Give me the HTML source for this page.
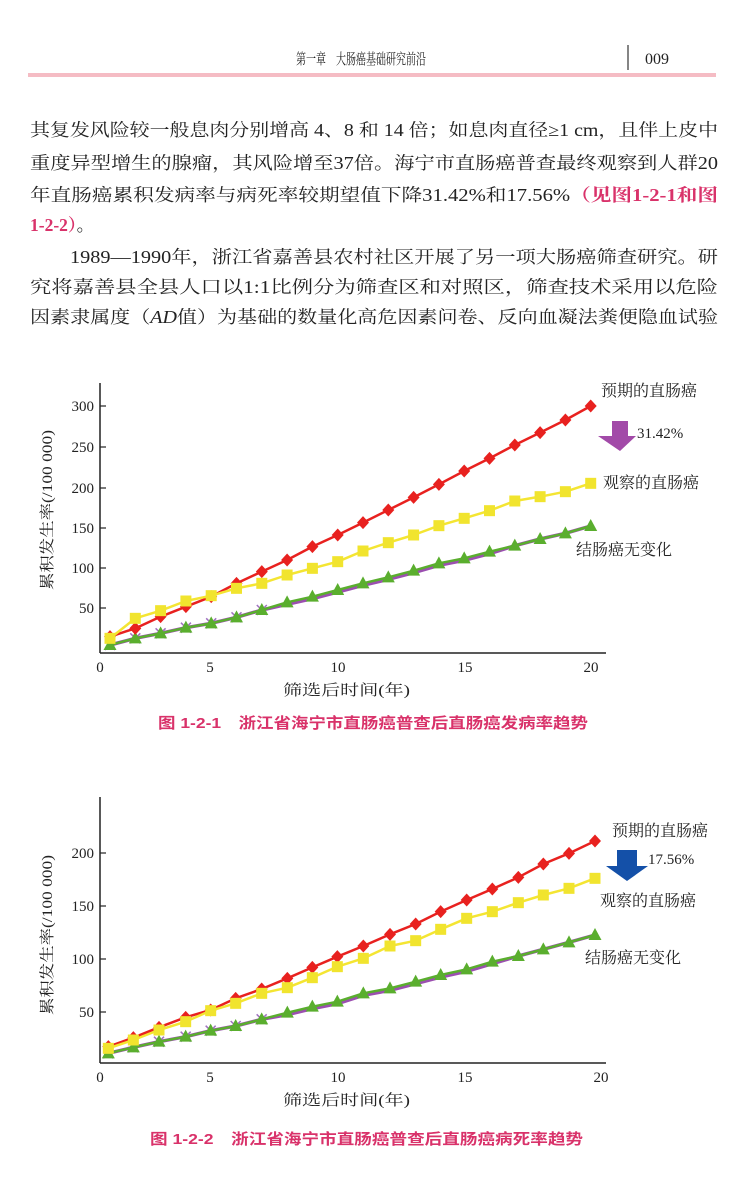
<!DOCTYPE html>
<html><head><meta charset="utf-8"><style>
html,body{margin:0;padding:0;background:#fff}
svg{display:block}
text{font-family:"Liberation Serif","Noto Serif CJK SC",serif;fill:#222}
.cap{font-family:"Liberation Sans","Noto Sans CJK SC",sans-serif;fill:#d9326a;font-weight:bold;font-size:15px}
</style></head><body>
<svg id="s" width="750" height="1194" viewBox="0 0 750 1194" xmlns="http://www.w3.org/2000/svg">
<text x="296" y="64" font-size="15" textLength="130" lengthAdjust="spacingAndGlyphs">第一章　大肠癌基础研究前沿</text>
<line x1="628" y1="45" x2="628" y2="70" stroke="#333" stroke-width="1.2"/>
<text x="645" y="64" font-size="16">009</text>
<rect x="28" y="73" width="688" height="4" fill="#f5bcc4"/>
<g font-size="17.5">
<text x="30" y="136" textLength="688" lengthAdjust="spacingAndGlyphs">其复发风险较一般息肉分别增高 4、8 和 14 倍；如息肉直径≥1 cm，且伴上皮中</text>
<text x="30" y="169" textLength="688" lengthAdjust="spacingAndGlyphs">重度异型增生的腺瘤，其风险增至37倍。海宁市直肠癌普查最终观察到人群20</text>
<text x="30" y="201" textLength="688" lengthAdjust="spacingAndGlyphs">年直肠癌累积发病率与病死率较期望值下降31.42%和17.56%<tspan fill="#d9326a" font-weight="bold">（见图1-2-1和图</tspan></text>
<text x="30" y="231"><tspan fill="#d9326a" font-weight="bold">1-2-2）</tspan>。</text>
<text x="70" y="263" textLength="648" lengthAdjust="spacingAndGlyphs">1989—1990年，浙江省嘉善县农村社区开展了另一项大肠癌筛查研究。研</text>
<text x="30" y="293" textLength="688" lengthAdjust="spacingAndGlyphs">究将嘉善县全县人口以1:1比例分为筛查区和对照区，筛查技术采用以危险</text>
<text x="30" y="323" textLength="688" lengthAdjust="spacingAndGlyphs">因素隶属度（<tspan font-style="italic">AD</tspan>值）为基础的数量化高危因素问卷、反向血凝法粪便隐血试验</text>
</g>
<g id="c1"></g><g id="c2"></g>
<text class="cap" x="158" y="728" textLength="430" lengthAdjust="spacingAndGlyphs">图 1-2-1　浙江省海宁市直肠癌普查后直肠癌发病率趋势</text>
<text class="cap" x="150" y="1144" textLength="433" lengthAdjust="spacingAndGlyphs">图 1-2-2　浙江省海宁市直肠癌普查后直肠癌病死率趋势</text>
</svg>
<script>
var NS="http://www.w3.org/2000/svg";
function el(p,t,a,txt){var e=document.createElementNS(NS,t);for(var k in a)e.setAttribute(k,a[k]);if(txt!=null)e.textContent=txt;p.appendChild(e);return e;}
function chart(g,o){
 el(g,"line",{x1:100,y1:o.top,x2:100,y2:o.bot,stroke:"#222","stroke-width":1.5});
 el(g,"line",{x1:100,y1:o.bot,x2:606,y2:o.bot,stroke:"#222","stroke-width":1.5});
 o.yt.forEach(function(t){el(g,"line",{x1:100,y1:t[1],x2:106,y2:t[1],stroke:"#222","stroke-width":1.2});
  el(g,"text",{x:94,y:t[1]+5,"font-size":15,"text-anchor":"end"},t[0]);});
 [[0,100],[5,210],[10,338],[15,465],[20,o.x20]].forEach(function(t){el(g,"text",{x:t[1],y:o.bot+19,"font-size":15,"text-anchor":"middle"},t[0]);});
 el(g,"text",{x:283,y:o.bot+42,"font-size":15,textLength:127,lengthAdjust:"spacingAndGlyphs"},"筛选后时间(年)");
 el(g,"text",{x:-80,y:0,"font-size":15,textLength:160,lengthAdjust:"spacingAndGlyphs",transform:"translate("+o.ylx+","+o.yly+") rotate(-90)"},"累积发生率(/100 000)");
 function P(arr){return arr.map(function(v,i){return [o.xs[i],v/3+o.oy];});}
 function line(pts,c,w){el(g,"polyline",{points:pts.map(function(p){return p.join(",")}).join(" "),fill:"none",stroke:c,"stroke-width":w,"stroke-linejoin":"round"});}
 var pu=P(o.green).map(function(p,i){return [p[0],p[1]+(i>6&&i<16?2:0)];});
 line(pu,"#9b4fb0",3.5);
 pu.forEach(function(p,i){if(i<7){var d=5;el(g,"path",{d:"M"+(p[0]-d)+","+(p[1]-d)+"L"+(p[0]+d)+","+(p[1]+d)+"M"+(p[0]+d)+","+(p[1]-d)+"L"+(p[0]-d)+","+(p[1]+d),stroke:"#a070c0","stroke-width":1.5});}});
 var gr=P(o.green);line(gr,"#5aae2e",2.5);
 gr.forEach(function(p){el(g,"path",{d:"M"+p[0]+","+(p[1]-7)+"L"+(p[0]+6.5)+","+(p[1]+5)+"L"+(p[0]-6.5)+","+(p[1]+5)+"Z",fill:"#5aae2e"});});
 var re=P(o.red);line(re,"#e8211f",2.5);
 re.forEach(function(p){el(g,"path",{d:"M"+p[0]+","+(p[1]-6.5)+"L"+(p[0]+6)+","+p[1]+"L"+p[0]+","+(p[1]+6.5)+"L"+(p[0]-6)+","+p[1]+"Z",fill:"#e8211f"});});
 var ye=P(o.yel);line(ye,"#f4e532",2.5);
 ye.forEach(function(p){el(g,"rect",{x:p[0]-5.5,y:p[1]-5.5,width:11,height:11,fill:"#f1e42e"});});
}
var xs1=[];for(var i=0;i<20;i++)xs1.push(110+25.3*i);
chart(document.getElementById("c1"),{top:383,bot:653,x20:591,oy:370,xs:xs1,ylx:52,yly:510,
 yt:[[300,406],[250,447],[200,488],[150,528],[100,568],[50,608]],
 red:[800,775,740,710,680,640,605,570,530,495,458,420,382,343,303,265,225,188,150,108],
 yel:[805,745,722,693,677,655,640,615,595,575,543,518,495,467,445,422,393,380,365,340],
 green:[825,805,790,773,760,742,720,697,680,660,640,622,602,580,565,545,527,507,490,468]});
var xs2=[55,130,207,287,362,437,515,592,667,742,820,900,977,1052,1130,1207,1285,1360,1437,1515].map(function(v){return v/3+90;});
chart(document.getElementById("c2"),{top:797,bot:1063,x20:601,oy:810,xs:xs2,ylx:52,yly:935,
 yt:[[200,853],[150,906],[100,959],[50,1012]],
 red:[710,683,652,622,600,565,537,505,472,440,408,373,342,305,270,237,202,162,130,93],
 yel:[715,690,660,635,602,580,550,533,503,470,445,408,392,358,325,305,278,255,235,205],
 green:[730,712,695,680,662,648,628,608,590,575,550,535,515,495,478,455,438,418,397,375]});
var s=document.getElementById("s");
function t(x,y,s2){el(s,"text",{x:x,y:y,"font-size":16,textLength:96,lengthAdjust:"spacingAndGlyphs"},s2);}
function n(x,y,s2){el(s,"text",{x:x,y:y,"font-size":15},s2);}
t(601,396,"预期的直肠癌");t(603,488,"观察的直肠癌");t(576,555,"结肠癌无变化");
n(637,438,"31.42%");
el(s,"path",{d:"M612,421L628,421L628,436L636,436L620,451L598,436L612,436Z",fill:"#a24aa8"});
t(612,836,"预期的直肠癌");t(600,906,"观察的直肠癌");t(585,963,"结肠癌无变化");
n(648,864,"17.56%");
el(s,"path",{d:"M617,850L637,850L637,866L648,866L627,881L606,866L617,866Z",fill:"#1450a8"});
</script>
</body></html>
